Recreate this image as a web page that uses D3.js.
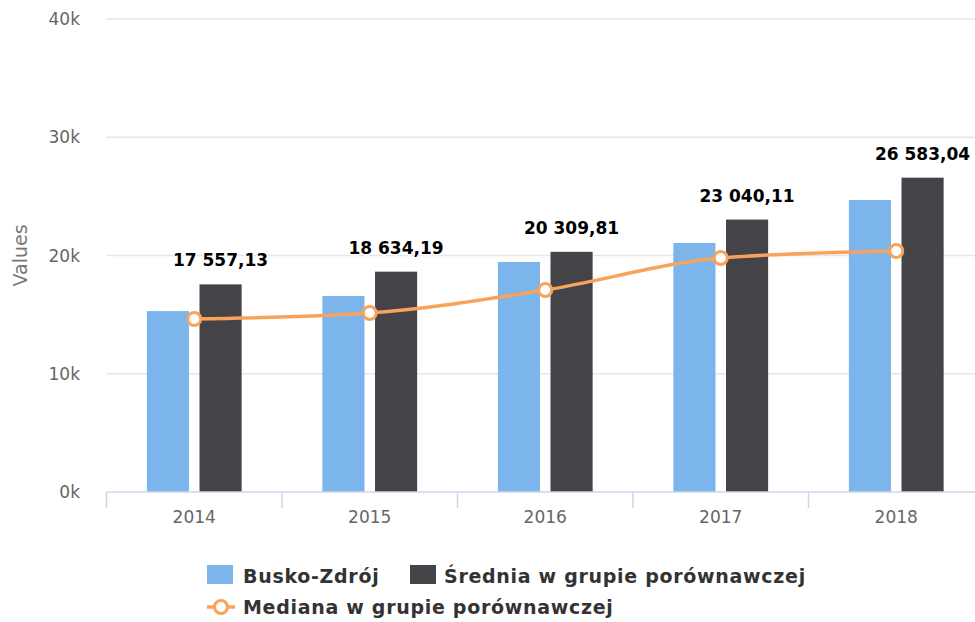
<!DOCTYPE html>
<html>
<head>
<meta charset="utf-8">
<script src="https://cdn.jsdelivr.net/npm/d3@7"></script>
<style>
  body { margin: 0; background: #fff; }
  svg { display: block; font-family: "DejaVu Sans", sans-serif; }
</style>
</head>
<body>
<div id="chart"></div>
<script>
// data
const years = ["2014", "2015", "2016", "2017", "2018"];
const busko = [15300, 16580, 19450, 21060, 24690];
const srednia = [17557.13, 18634.19, 20309.81, 23040.11, 26583.04];
const mediana = [14630, 15140, 17080, 19790, 20380];
const yTicks = [0, 10000, 20000, 30000, 40000];

const width = 975, height = 622;
const plotLeft = 106.5, plotRight = 984, plotTop = 19, plotBottom = 492;

const svg = d3.select("#chart").append("svg")
  .attr("width", width).attr("height", height);

const x = d3.scaleBand().domain(years).range([plotLeft, plotRight]);
const y = d3.scaleLinear().domain([0, 40000]).range([plotBottom, plotTop]);

// grid
svg.append("g").selectAll("line").data(yTicks.filter(d => d > 0)).join("line")
  .attr("x1", plotLeft).attr("x2", plotRight)
  .attr("y1", d => y(d)).attr("y2", d => y(d))
  .attr("stroke", "#e6e6e6").attr("stroke-width", 1.5);

// y labels
svg.append("g").selectAll("text").data(yTicks).join("text")
  .attr("x", 80).attr("y", d => y(d) + 6)
  .attr("text-anchor", "end")
  .attr("font-size", 17).attr("fill", "#666")
  .text(d => d / 1000 + "k");

svg.append("text")
  .attr("transform", "translate(27," + ((plotTop + plotBottom) / 2) + ") rotate(-90)")
  .attr("text-anchor", "middle")
  .attr("font-size", 19).attr("fill", "#777")
  .text("Values");

// bars
const bw = x.bandwidth();
const groupPad = 0.2 * bw;
const slot = (bw - 2 * groupPad) / 2;
const pad = 0.1 * slot;

svg.append("g").selectAll("rect").data(busko).join("rect")
  .attr("x", (d, i) => x(years[i]) + groupPad + pad)
  .attr("width", slot - 2 * pad)
  .attr("y", d => y(d)).attr("height", d => plotBottom - y(d))
  .attr("fill", "#7cb5ec");

svg.append("g").selectAll("rect").data(srednia).join("rect")
  .attr("x", (d, i) => x(years[i]) + groupPad + slot + pad)
  .attr("width", slot - 2 * pad)
  .attr("y", d => y(d)).attr("height", d => plotBottom - y(d))
  .attr("fill", "#434348");

// labels on dark bars
const fmt = v => d3.format(",.2f")(v).replace(/,/g, " ").replace(".", ",");
svg.append("g").selectAll("text").data(srednia).join("text")
  .attr("x", (d, i) => x(years[i]) + groupPad + slot * 1.5)
  .attr("y", d => y(d) - 18)
  .attr("text-anchor", "middle")
  .attr("font-size", 17).attr("font-weight", "bold").attr("fill", "#000")
  .attr("stroke", "#fff").attr("stroke-width", 3).attr("paint-order", "stroke")
  .attr("stroke-linejoin", "round")
  .text(d => fmt(d));

// x axis
svg.append("line")
  .attr("x1", plotLeft).attr("x2", plotRight).attr("y1", plotBottom).attr("y2", plotBottom)
  .attr("stroke", "#ccd6eb").attr("stroke-width", 1.5);
svg.append("g").selectAll("line").data(years).join("line")
  .attr("x1", d => x(d)).attr("x2", d => x(d))
  .attr("y1", plotBottom).attr("y2", plotBottom + 16)
  .attr("stroke", "#ccd6eb").attr("stroke-width", 1.5);
svg.append("g").selectAll("text").data(years).join("text")
  .attr("x", d => x(d) + bw / 2).attr("y", 523)
  .attr("text-anchor", "middle")
  .attr("font-size", 17).attr("fill", "#666")
  .text(d => d);

// median line
const line = d3.line()
  .x((d, i) => x(years[i]) + bw / 2)
  .y(d => y(d))
  .curve(d3.curveMonotoneX);
svg.append("path").datum(mediana)
  .attr("d", line).attr("fill", "none")
  .attr("stroke", "#f7a35c").attr("stroke-width", 3.5);
svg.append("g").selectAll("circle").data(mediana).join("circle")
  .attr("cx", (d, i) => x(years[i]) + bw / 2).attr("cy", d => y(d))
  .attr("r", 6.5).attr("fill", "#fff")
  .attr("stroke", "#f7a35c").attr("stroke-width", 3);

// legend
const lg = svg.append("g").attr("font-size", 19).attr("font-weight", "bold")
  .attr("letter-spacing", 0.7).attr("fill", "#333");
lg.append("rect").attr("x", 207).attr("y", 565).attr("width", 26).attr("height", 19).attr("fill", "#7cb5ec");
lg.append("text").attr("x", 243).attr("y", 583).text("Busko-Zdrój");
lg.append("rect").attr("x", 410).attr("y", 565).attr("width", 26).attr("height", 19).attr("fill", "#434348");
lg.append("text").attr("x", 444).attr("y", 583).text("Średnia w grupie porównawczej");
lg.append("line").attr("x1", 207).attr("x2", 235).attr("y1", 607).attr("y2", 607)
  .attr("stroke", "#f7a35c").attr("stroke-width", 3.5);
lg.append("circle").attr("cx", 221).attr("cy", 607).attr("r", 6.5)
  .attr("fill", "#fff").attr("stroke", "#f7a35c").attr("stroke-width", 3);
lg.append("text").attr("x", 243).attr("y", 614).text("Mediana w grupie porównawczej");
</script>
</body>
</html>
